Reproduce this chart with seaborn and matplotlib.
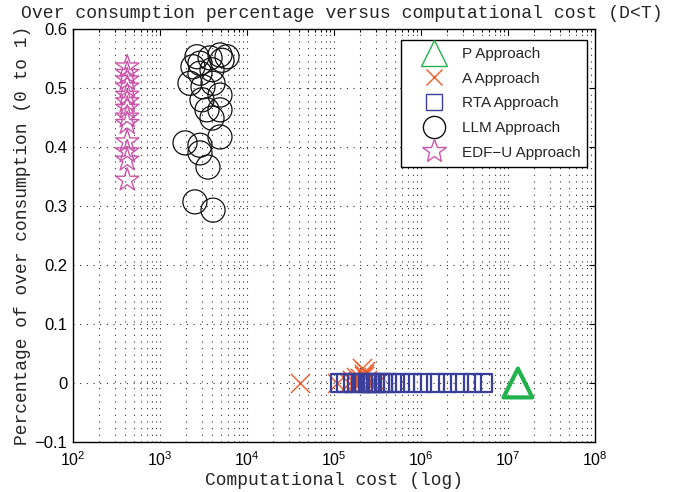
import numpy as np
import pandas as pd
import matplotlib
matplotlib.use("Agg")
import matplotlib.pyplot as plt
import seaborn as sns
from matplotlib.lines import Line2D
from matplotlib.ticker import LogLocator

# ---------------- data ----------------
p_cost = [1.3e7]
p_over = [0.0]

a_cost = [4.1e4, 1.07e5, 1.5e5, 1.6e5, 1.7e5, 1.8e5, 1.9e5, 2.0e5, 2.1e5,
          2.2e5, 2.3e5, 2.4e5, 2.6e5, 2.8e5, 3.1e5, 2.0e5, 2.2e5, 1.9e5]
a_over = [0.0, 0.0, 0.0, 0.005, 0.0, 0.01, 0.003, 0.0, 0.025,
          0.015, 0.02, 0.005, 0.0, 0.0, 0.0, 0.008, 0.012, 0.0]

rta_cost = [1.15e5, 1.35e5, 1.62e5, 2.0e5, 2.2e5, 2.4e5, 2.6e5, 2.8e5, 3.0e5,
            3.4e5, 3.7e5, 4.1e5, 4.7e5, 5.8e5, 7.9e5, 1.05e6, 1.45e6, 2.0e6,
            2.8e6, 3.9e6, 5.2e6]
rta_over = [0.0] * len(rta_cost)

llm_cost = [2210, 2880, 3760, 4890, 5160, 2880, 3960, 4890, 3040, 3470,
            4890, 3960, 1940, 2880, 4890, 2880, 3560, 2520, 4070, 2390,
            5890, 3120, 4070, 2660]
llm_over = [0.508, 0.542, 0.551, 0.556, 0.547, 0.525, 0.531, 0.488, 0.480, 0.463,
            0.463, 0.449, 0.407, 0.403, 0.417, 0.390, 0.366, 0.307, 0.293, 0.536,
            0.553, 0.502, 0.508, 0.553]

edf_cost = [420] * 13
edf_over = [0.536, 0.525, 0.514, 0.502, 0.488, 0.477, 0.466, 0.451, 0.440,
            0.409, 0.392, 0.378, 0.344]

labels = ["P Approach", "A Approach", "RTA Approach", "LLM Approach", "EDF\u2212U Approach"]
y_ticks = [-0.1, 0.0, 0.1, 0.2, 0.3, 0.4, 0.5, 0.6]
y_ticklabels = ["\u22120.1", "0", "0.1", "0.2", "0.3", "0.4", "0.5", "0.6"]

df = pd.concat([
    pd.DataFrame({"cost": p_cost, "over": p_over, "approach": labels[0]}),
    pd.DataFrame({"cost": a_cost, "over": a_over, "approach": labels[1]}),
    pd.DataFrame({"cost": rta_cost, "over": rta_over, "approach": labels[2]}),
    pd.DataFrame({"cost": llm_cost, "over": llm_over, "approach": labels[3]}),
    pd.DataFrame({"cost": edf_cost, "over": edf_over, "approach": labels[4]}),
], ignore_index=True)

# ---------------- style ----------------
sns.set_theme(style="white")
plt.rcParams["font.family"] = ["Liberation Sans", "DejaVu Sans"]
plt.rcParams["mathtext.fontset"] = "custom"
plt.rcParams["mathtext.rm"] = "Liberation Sans"

green = "#22b14c"
orange = "#f05a28"
blue = "#3b3f9c"
black = "#111111"
pink = "#cc55aa"

styles = {
    labels[0]: dict(marker="^", s=430, color=green, filled=True, lw=3.0),
    labels[1]: dict(marker="x", s=190, color=orange, filled=False, lw=1.0),
    labels[2]: dict(marker="s", s=150, color=blue, filled=True, lw=1.6),
    labels[3]: dict(marker="o", s=300, color=black, filled=True, lw=0.9),
    labels[4]: dict(marker="*", s=310, color=pink, filled=True, lw=1.0),
}

fig = plt.figure(figsize=(6.75, 4.92), dpi=100)
ax = fig.add_axes([73 / 675, 1 - 442 / 492, (595 - 73) / 675, (442 - 29) / 492])

for lab in labels:
    st = styles[lab]
    sub = df[df["approach"] == lab]
    if st["filled"]:
        sns.scatterplot(data=sub, x="cost", y="over", marker=st["marker"], s=st["s"],
                        facecolor="none", edgecolor=st["color"], linewidth=st["lw"],
                        ax=ax, legend=False, zorder=3)
    else:
        sns.scatterplot(data=sub, x="cost", y="over", marker=st["marker"], s=st["s"],
                        color=st["color"], linewidth=st["lw"],
                        ax=ax, legend=False, zorder=3)

ax.set_xscale("log")
ax.set_xlim(1e2, 1e8)
ax.set_ylim(-0.1, 0.6)
ax.xaxis.set_major_locator(LogLocator(base=10, numticks=10))
ax.xaxis.set_minor_locator(LogLocator(base=10, subs=np.arange(2, 10), numticks=100))
ax.set_yticks(y_ticks)
ax.set_yticklabels(y_ticklabels)

grid_ls = (0, (1, 5))
ax.grid(True, which="major", axis="both", linestyle=grid_ls, linewidth=0.8, color="0.2")
ax.grid(True, which="minor", axis="x", linestyle=grid_ls, linewidth=0.8, color="0.2")
ax.set_axisbelow(True)

ax.tick_params(which="both", direction="in", top=True, right=True,
               colors="black", length=4, width=0.8)
ax.tick_params(which="minor", length=2)
ax.tick_params(axis="x", labelsize=11.5, pad=6)
ax.tick_params(axis="y", labelsize=12, pad=4)
for sp in ax.spines.values():
    sp.set_color("black")
    sp.set_linewidth(1.0)

mono = ["Liberation Mono", "DejaVu Sans Mono"]
ax.set_title("Over consumption percentage versus computational cost (D<T)",
             fontsize=13.1, family=mono, pad=8, x=0.515)
ax.set_xlabel("Computational cost (log)", fontsize=12.9, family=mono, labelpad=2)
ax.set_ylabel("Percentage of over consumption (0 to 1)", fontsize=12.9, family=mono, labelpad=3)

handles = [
    Line2D([], [], ls="", marker="^", ms=19, mfc="none", mec=green, mew=1.0),
    Line2D([], [], ls="", marker="x", ms=11, color=orange, mew=1.0),
    Line2D([], [], ls="", marker="s", ms=12, mfc="none", mec=blue, mew=1.0),
    Line2D([], [], ls="", marker="o", ms=16, mfc="none", mec=black, mew=1.0),
    Line2D([], [], ls="", marker="*", ms=18, mfc="none", mec=pink, mew=1.0),
]
leg = ax.legend(handles, labels, loc="upper right", bbox_to_anchor=(0.985, 0.973),
                fontsize=11, frameon=True, fancybox=False, framealpha=1,
                edgecolor="black", labelspacing=0.7, handlelength=3.4,
                handletextpad=0.1, borderpad=0.45, borderaxespad=0)
leg.get_frame().set_linewidth(1.0)

fig.savefig("out.png", dpi=100)
